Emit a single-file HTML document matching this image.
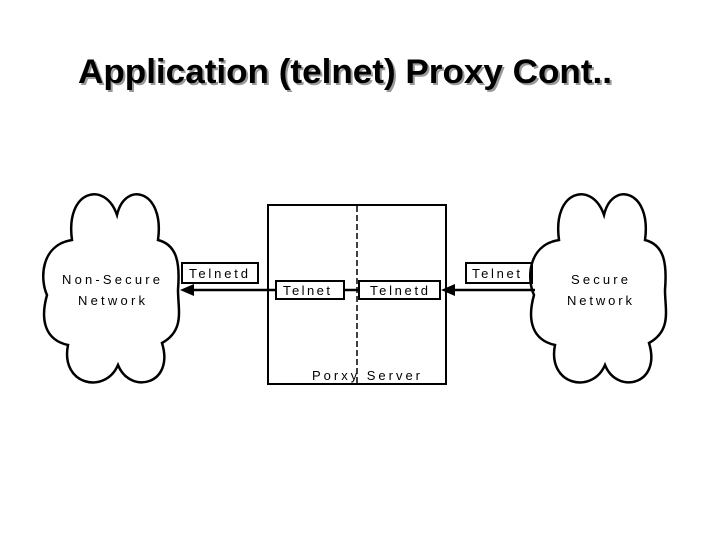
<!DOCTYPE html>
<html><head><style>
body{margin:0;background:#fff;}
svg text{font-family:"Liberation Sans",sans-serif;}
</style></head><body>
<svg width="720" height="540" viewBox="0 0 720 540" xmlns="http://www.w3.org/2000/svg">
<text x="80" y="85" textLength="534" lengthAdjust="spacingAndGlyphs" font-size="34" font-weight="bold" fill="#999">Application (telnet) Proxy Cont..</text>
<text x="78" y="83" textLength="534" lengthAdjust="spacingAndGlyphs" font-size="34" font-weight="bold" fill="#000">Application (telnet) Proxy Cont..</text>
<g fill="none" stroke="#000" stroke-width="2.5">
<path d="M117,215 C105,180 65,190 72,240 C40,245 40,280 47,295 C40,320 45,340 68,345 C60,385 105,395 118,365 C130,395 175,385 162,343 C185,330 178,310 178,290 C180,265 178,245 158,240 C165,190 125,180 117,215 Z"/>
<path d="M604,215 C592,180 552,190 559,240 C527,245 527,280 534,295 C527,320 532,340 555,345 C547,385 592,395 605,365 C617,395 662,385 649,343 C672,330 665,310 665,290 C667,265 665,245 645,240 C652,190 612,180 604,215 Z"/>
<rect x="268" y="205" width="178" height="179" stroke-width="2"/>
<line x1="357" y1="206" x2="357" y2="383" stroke-dasharray="6,3" stroke-width="1.5"/>
<rect x="182" y="263" width="76" height="20" stroke-width="2"/>
<rect x="466" y="263" width="66" height="20" stroke-width="2"/>
<rect x="276" y="281" width="68" height="18" stroke-width="2"/>
<rect x="359" y="281" width="81" height="18" stroke-width="2"/>
<line x1="190" y1="290" x2="276" y2="290"/>
<line x1="344" y1="290" x2="359" y2="290"/>
<line x1="450" y1="290" x2="535" y2="290"/>
</g>
<polygon points="180,290 194,284 194,296" fill="#000"/>
<polygon points="441,290 455,284 455,296" fill="#000"/>
<g font-size="13" fill="#000">
<text x="62" y="284" textLength="98" lengthAdjust="spacing">Non-Secure</text>
<text x="78" y="305" textLength="67" lengthAdjust="spacing">Network</text>
<text x="189" y="278" textLength="59" lengthAdjust="spacing">Telnetd</text>
<text x="283" y="295" textLength="47" lengthAdjust="spacing">Telnet</text>
<text x="370" y="295" textLength="58" lengthAdjust="spacing">Telnetd</text>
<text x="472" y="278" textLength="48" lengthAdjust="spacing">Telnet</text>
<text x="571" y="284" textLength="57" lengthAdjust="spacing">Secure</text>
<text x="567" y="305" textLength="65" lengthAdjust="spacing">Network</text>
<text x="312" y="380" textLength="108" lengthAdjust="spacing">Porxy Server</text>
</g>
</svg>
</body></html>
